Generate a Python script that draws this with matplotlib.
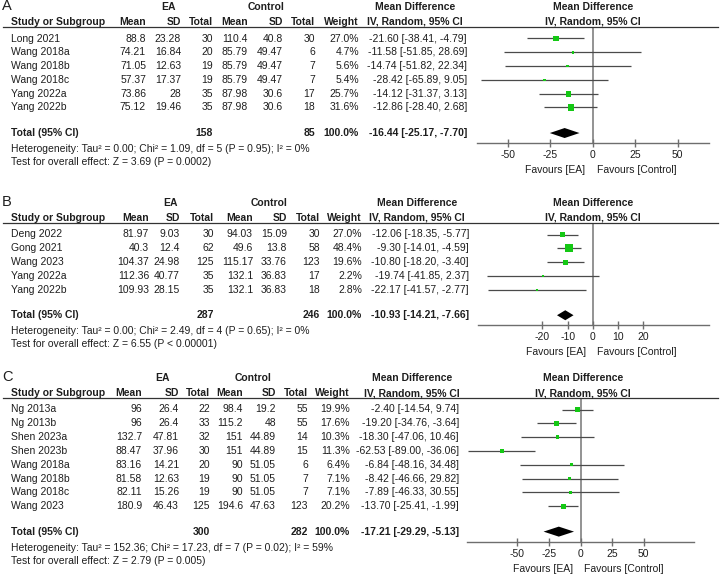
import numpy as np
import matplotlib.pyplot as plt
from matplotlib import transforms

plt.rcParams['font.family'] = ['Liberation Sans', 'DejaVu Sans']
plt.rcParams['axes.unicode_minus'] = False

# ---- dados (painel A) ----
A_study = ['Long 2021', 'Wang 2018a', 'Wang 2018b', 'Wang 2018c', 'Yang 2022a', 'Yang 2022b']
A_ea_mean = ['88.8', '74.21', '71.05', '57.37', '73.86', '75.12']
A_ea_sd = ['23.28', '16.84', '12.63', '17.37', '28', '19.46']
A_ea_n = [30, 20, 19, 19, 35, 35]
A_c_mean = ['110.4', '85.79', '85.79', '85.79', '87.98', '87.98']
A_c_sd = ['40.8', '49.47', '49.47', '49.47', '30.6', '30.6']
A_c_n = [30, 6, 7, 7, 17, 18]
A_weight = [27.0, 4.7, 5.6, 5.4, 25.7, 31.6]
A_md = [-21.60, -11.58, -14.74, -28.42, -14.12, -12.86]
A_lo = [-38.41, -51.85, -51.82, -65.89, -31.37, -28.40]
A_hi = [-4.79, 28.69, 22.34, 9.05, 3.13, 2.68]
A_total = [158, 85, -16.44, -25.17, -7.70]
A_ticks = [-50, -25, 0, 25, 50]
A_het = 'Heterogeneity: Tau² = 0.00; Chi² = 1.09, df = 5 (P = 0.95); I² = 0%'
A_test = 'Test for overall effect: Z = 3.69 (P = 0.0002)'

# ---- dados (painel B) ----
B_study = ['Deng 2022', 'Gong 2021', 'Wang 2023', 'Yang 2022a', 'Yang 2022b']
B_ea_mean = ['81.97', '40.3', '104.37', '112.36', '109.93']
B_ea_sd = ['9.03', '12.4', '24.98', '40.77', '28.15']
B_ea_n = [30, 62, 125, 35, 35]
B_c_mean = ['94.03', '49.6', '115.17', '132.1', '132.1']
B_c_sd = ['15.09', '13.8', '33.76', '36.83', '36.83']
B_c_n = [30, 58, 123, 17, 18]
B_weight = [27.0, 48.4, 19.6, 2.2, 2.8]
B_md = [-12.06, -9.30, -10.80, -19.74, -22.17]
B_lo = [-18.35, -14.01, -18.20, -41.85, -41.57]
B_hi = [-5.77, -4.59, -3.40, 2.37, -2.77]
B_total = [287, 246, -10.93, -14.21, -7.66]
B_ticks = [-20, -10, 0, 10, 20]
B_het = 'Heterogeneity: Tau² = 0.00; Chi² = 2.49, df = 4 (P = 0.65); I² = 0%'
B_test = 'Test for overall effect: Z = 6.55 (P < 0.00001)'

# ---- dados (painel C) ----
C_study = ['Ng 2013a', 'Ng 2013b', 'Shen 2023a', 'Shen 2023b', 'Wang 2018a', 'Wang 2018b', 'Wang 2018c', 'Wang 2023']
C_ea_mean = ['96', '96', '132.7', '88.47', '83.16', '81.58', '82.11', '180.9']
C_ea_sd = ['26.4', '26.4', '47.81', '37.96', '14.21', '12.63', '15.26', '46.43']
C_ea_n = [22, 33, 32, 30, 20, 19, 19, 125]
C_c_mean = ['98.4', '115.2', '151', '151', '90', '90', '90', '194.6']
C_c_sd = ['19.2', '48', '44.89', '44.89', '51.05', '51.05', '51.05', '47.63']
C_c_n = [55, 55, 14, 15, 6, 7, 7, 123]
C_weight = [19.9, 17.6, 10.3, 11.3, 6.4, 7.1, 7.1, 20.2]
C_md = [-2.40, -19.20, -18.30, -62.53, -6.84, -8.42, -7.89, -13.70]
C_lo = [-14.54, -34.76, -47.06, -89.00, -48.16, -46.66, -46.33, -25.41]
C_hi = [9.74, -3.64, 10.46, -36.06, 34.48, 29.82, 30.55, -1.99]
C_total = [300, 282, -17.21, -29.29, -5.13]
C_ticks = [-50, -25, 0, 25, 50]
C_het = 'Heterogeneity: Tau² = 152.36; Chi² = 17.23, df = 7 (P = 0.02); I² = 59%'
C_test = 'Test for overall effect: Z = 2.79 (P = 0.005)'

# ---- layout (pixels) ----
W, H = 720, 574
FS = 7.45
TXT = '#1e1e1e'
GREEN = '#14c814'
ROW = 13.8

fig = plt.figure(figsize=(W / 100, H / 100), dpi=100)


def txt(x, y, s, ha='left', bold=False, size=FS):
    fig.text(x / W, 1 - y / H, s, ha=ha, va='center', color=TXT, fontsize=size,
             fontweight='bold' if bold else 'normal')


def painel(letra, d, lay):
    top = lay['top']
    cols = lay['cols']  # mean, sd, total, cmean, csd, ctotal, weight, md
    # cabeçalhos
    txt(2, top - 1, letra, size=10.5)
    txt(lay['ea_c'], top, 'EA', ha='center', bold=True)
    txt(lay['ct_c'], top, 'Control', ha='center', bold=True)
    txt(lay['md_c'], top, 'Mean Difference', ha='center', bold=True)
    txt(lay['fz'], top, 'Mean Difference', ha='center', bold=True)
    h2 = top + 15
    txt(11, h2, 'Study or Subgroup', bold=True)
    for x, s in zip(cols[:7], ['Mean', 'SD', 'Total', 'Mean', 'SD', 'Total', 'Weight']):
        txt(x, h2, s, ha='right', bold=True)
    txt(lay['md_c'], h2, 'IV, Random, 95% CI', ha='center', bold=True)
    txt(lay['fz'], h2, 'IV, Random, 95% CI', ha='center', bold=True)
    uline = h2 + 4.5
    fig.add_artist(plt.Line2D([3 / W, 718 / W], [1 - uline / H] * 2, color='#333333', lw=0.9))

    # linhas dos estudos
    r0 = uline + 12
    ys = [r0 + i * ROW for i in range(len(d['study']))]
    for i, y in enumerate(ys):
        txt(11, y, d['study'][i])
        vals = [d['ea_mean'][i], d['ea_sd'][i], str(d['ea_n'][i]), d['c_mean'][i],
                d['c_sd'][i], str(d['c_n'][i]), '%.1f%%' % d['weight'][i],
                '%.2f [%.2f, %.2f]' % (d['md'][i], d['lo'][i], d['hi'][i])]
        for x, s in zip(cols, vals):
            txt(x, y, s, ha='right')
    yt = ys[-1] + 1.85 * ROW
    n1, n2, tm, tl, th = d['total']
    txt(11, yt, 'Total (95% CI)', bold=True)
    txt(cols[2], yt, str(n1), ha='right', bold=True)
    txt(cols[5], yt, str(n2), ha='right', bold=True)
    txt(cols[6], yt, '100.0%', ha='right', bold=True)
    txt(cols[7], yt, '%.2f [%.2f, %.2f]' % (tm, tl, th), ha='right', bold=True)
    txt(11, yt + 16, d['het'])
    txt(11, yt + 29, d['test'])

    # gráfico de floresta
    axy = yt + 10
    x0, x1 = lay['ax_px']
    ax = fig.add_axes([x0 / W, 1 - axy / H, (x1 - x0) / W, (axy - uline) / H])
    ax.set_xlim(lay['xlim'])
    ax.set_ylim(axy, uline)
    for s in ['top', 'left', 'right']:
        ax.spines[s].set_visible(False)
    ax.spines['bottom'].set_color('#6e6e6e')
    ax.spines['bottom'].set_linewidth(1.0)
    ax.set_yticks([])
    ax.set_xticks(d['ticks'])
    ax.tick_params(axis='x', direction='inout', length=6, width=1.0, color='#6e6e6e',
                   labelsize=FS, labelcolor=TXT, pad=2)
    ax.patch.set_alpha(0)
    ax.axvline(0, color='#8a8a8a', lw=1.3, zorder=1)
    ax.hlines(ys, d['lo'], d['hi'], color='#4a4a4a', lw=0.9, zorder=2)
    side = [0.72 * 1.12 * np.sqrt(w) for w in d['weight']]
    ax.scatter(d['md'], ys, s=[q ** 2 for q in side], marker='s', color=GREEN,
               linewidths=0, zorder=3)
    ax.fill([tl, tm, th, tm], [yt, yt - 5, yt, yt + 5], color='black', lw=0, zorder=3, clip_on=False)
    fy = axy + 27
    left = transforms.offset_copy(ax.transData, fig=fig, x=-7, y=0, units='dots')
    right = transforms.offset_copy(ax.transData, fig=fig, x=4, y=0, units='dots')
    ax.text(0, fy, 'Favours [EA]', ha='right', va='center', fontsize=FS, color=TXT,
            transform=left, clip_on=False)
    ax.text(0, fy, 'Favours [Control]', ha='left', va='center', fontsize=FS, color=TXT,
            transform=right, clip_on=False)


dados = {
    'A': dict(study=A_study, ea_mean=A_ea_mean, ea_sd=A_ea_sd, ea_n=A_ea_n, c_mean=A_c_mean,
              c_sd=A_c_sd, c_n=A_c_n, weight=A_weight, md=A_md, lo=A_lo, hi=A_hi,
              total=A_total, ticks=A_ticks, het=A_het, test=A_test),
    'B': dict(study=B_study, ea_mean=B_ea_mean, ea_sd=B_ea_sd, ea_n=B_ea_n, c_mean=B_c_mean,
              c_sd=B_c_sd, c_n=B_c_n, weight=B_weight, md=B_md, lo=B_lo, hi=B_hi,
              total=B_total, ticks=B_ticks, het=B_het, test=B_test),
    'C': dict(study=C_study, ea_mean=C_ea_mean, ea_sd=C_ea_sd, ea_n=C_ea_n, c_mean=C_c_mean,
              c_sd=C_c_sd, c_n=C_c_n, weight=C_weight, md=C_md, lo=C_lo, hi=C_hi,
              total=C_total, ticks=C_ticks, het=C_het, test=C_test),
}

layout = {
    'A': dict(top=7, cols=[146, 181, 213, 248, 283, 315, 359, 467], ea_c=168, ct_c=266,
              md_c=415, fz=593, ax_px=(477, 709), xlim=(-68, 68.5)),
    'B': dict(top=203, cols=[149, 180, 214, 253, 287, 320, 362, 469], ea_c=170, ct_c=269,
              md_c=417, fz=593, ax_px=(478, 709), xlim=(-45.5, 46)),
    'C': dict(top=378, cols=[142, 179, 210, 243, 276, 308, 350, 459], ea_c=163, ct_c=253,
              md_c=412, fz=583, ax_px=(467, 694), xlim=(-90, 90)),
}

for k in ['A', 'B', 'C']:
    painel(k, dados[k], layout[k])

plt.savefig('out.png', dpi=100)
